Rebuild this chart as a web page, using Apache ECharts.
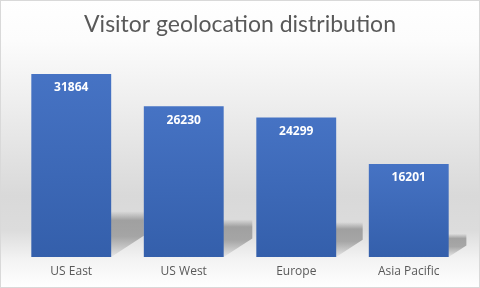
<!DOCTYPE html>
<html><head><meta charset="utf-8">
<script src="https://cdn.jsdelivr.net/npm/echarts@6/dist/echarts.min.js"></script>
<style>html,body{margin:0;padding:0;}#c{width:480px;height:288px;}</style>
</head><body><div id="c"></div>
<script>
var categories = ['US East', 'US West', 'Europe', 'Asia Pacific'];
var visitors = [31864, 26230, 24299, 16201];
var titleText = 'Visitor geolocation distribution';

var gapRatio = 0.29;
var chart = echarts.init(document.getElementById('c'), null, {renderer: 'canvas'});
chart.setOption({
  backgroundColor: {
    type: 'linear', x: 0, y: 0, x2: 0, y2: 1,
    colorStops: [
      {offset: 0, color: '#ffffff'},
      {offset: 0.14, color: '#fcfcfc'},
      {offset: 0.45, color: '#e8e8e8'},
      {offset: 0.68, color: '#d9d9d9'},
      {offset: 0.8, color: '#dcdcdc'},
      {offset: 0.9, color: '#f3f3f3'},
      {offset: 1, color: '#ffffff'}
    ]
  },
  animation: false,
  title: {
    text: titleText, left: 'center', top: 8,
    textStyle: {fontFamily: 'Lato', fontWeight: 'normal', fontSize: 23, color: '#595959'}
  },
  grid: {left: 15, right: 15, top: 56, bottom: 31},
  xAxis: {
    type: 'category', data: categories,
    axisLine: {show: false}, axisTick: {show: false},
    axisLabel: {color: '#595959', fontSize: 12, fontFamily: 'Open Sans', margin: 9}
  },
  yAxis: {
    type: 'value', min: 0, max: 35000, interval: 5000,
    show: false, splitLine: {show: false}
  },
  series: [{
    type: 'custom', z: 1, silent: true,
    data: visitors.map(function (v, i) { return [i, v]; }),
    renderItem: function (params, api) {
      var top = api.coord([api.value(0), api.value(1)]);
      var base = api.coord([api.value(0), 0]);
      var band = api.size([1, 0])[0];
      var bw = band * (1 - gapRatio);
      var xL = top[0] - bw / 2, xR = top[0] + bw / 2;
      var h = base[1] - top[1];
      var H = h * 0.25, dx = Math.min(h * 0.19, band - bw);
      var b = base[1];
      return {
        type: 'polygon',
        shape: {points: [[xL, b], [xR, b], [xR + dx, b - dx * 0.65], [xR + dx, b - H], [xL + dx, b - H]]},
        style: {
          fill: {type: 'linear', x: 0, y: 0, x2: 0, y2: 1, colorStops: [
            {offset: 0, color: 'rgba(150,150,150,0)'},
            {offset: 0.2, color: 'rgba(150,150,150,0.85)'},
            {offset: 0.55, color: 'rgba(150,150,150,0.8)'},
            {offset: 1, color: 'rgba(150,150,150,0.1)'}
          ]}
        }
      };
    }
  }, {
    type: 'bar', data: visitors, barCategoryGap: (gapRatio * 100) + '%', z: 2,
    itemStyle: {
      color: {type: 'linear', x: 0, y: 0, x2: 0, y2: 1,
        colorStops: [{offset: 0, color: '#4673c4'}, {offset: 1, color: '#345fab'}]}
    },
    label: {show: true, position: 'insideTop', distance: 8, color: '#ffffff',
      fontWeight: 'bold', fontSize: 12, fontFamily: 'Open Sans'}
  }]
});
</script>
<div style="position:absolute;left:0;top:0;width:478px;height:286px;border:1px solid #d9d9d9;pointer-events:none"></div>
</body></html>
